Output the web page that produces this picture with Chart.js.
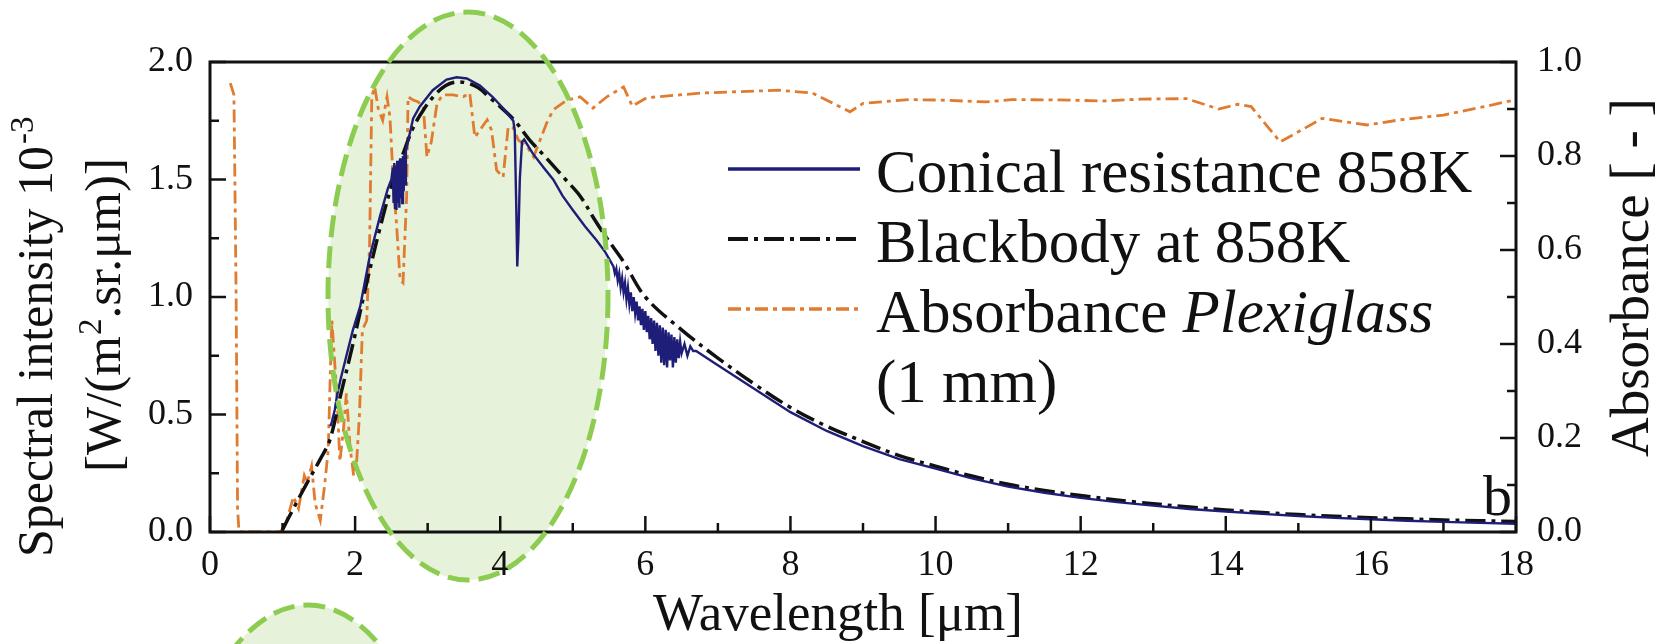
<!DOCTYPE html>
<html>
<head>
<meta charset="utf-8">
<style>
html,body{margin:0;padding:0;background:#ffffff;}
#wrap{width:1664px;height:644px;position:relative;}
canvas{display:block;}
</style>
<script src="https://cdn.jsdelivr.net/npm/chart.js@4.4.1/dist/chart.umd.min.js"></script>
</head>
<body>
<div id="wrap"><canvas id="c" width="1664" height="644"></canvas></div>
<script>
// ---------------- DATA ----------------
const seriesNames = ["Conical resistance 858K", "Blackbody at 858K", "Absorbance ", "Plexiglass", "(1 mm)"];

const conicalWavelength = [1.66,1.68,1.72,1.75,1.80,1.88,1.97,2.07,2.20,2.34,2.45,2.50,2.52,2.53,2.54,2.55,2.56,2.57,2.58,2.59,2.60,2.61,2.62,2.63,2.64,2.65,2.66,2.67,2.68,2.69,2.70,2.72,2.80,2.89,3.07,3.26,3.40,3.54,3.72,3.90,4.05,4.18,4.20,4.22,4.235,4.25,4.27,4.30,4.33,4.45,4.60,4.73,4.86,5.00,5.17,5.33,5.45,5.56,5.58,5.60,5.62,5.64,5.66,5.68,5.70,5.72,5.74,5.76,5.78,5.80,5.82,5.84,5.86,5.88,5.90,5.92,5.94,5.96,5.98,6.00,6.02,6.04,6.06,6.08,6.10,6.12,6.14,6.16,6.18,6.20,6.22,6.24,6.26,6.28,6.30,6.32,6.34,6.36,6.38,6.40,6.42,6.44,6.46,6.48,6.50,6.54,6.58,6.62,6.66,6.70,6.80,7.00,7.50,8.00,8.50,9.00,9.50,10.0,10.5,11.0,11.5,12.0,12.5,13.0,13.5,14.0,14.5,15.0,15.5,16.0,16.5,17.0,17.5,18.0];
const conicalIntensity  = [0.45,0.47,0.52,0.58,0.65,0.75,0.86,0.96,1.17,1.34,1.46,1.50,1.55,1.40,1.57,1.38,1.56,1.37,1.58,1.40,1.57,1.38,1.59,1.42,1.58,1.40,1.60,1.45,1.61,1.48,1.62,1.65,1.76,1.81,1.88,1.925,1.935,1.93,1.90,1.85,1.80,1.75,1.71,1.40,1.13,1.25,1.50,1.66,1.67,1.61,1.55,1.50,1.43,1.37,1.30,1.24,1.19,1.13,1.10,1.12,1.07,1.10,1.04,1.08,1.02,1.06,0.99,1.04,0.97,1.02,0.94,1.00,0.93,0.98,0.90,0.96,0.88,0.95,0.86,0.94,0.85,0.92,0.82,0.91,0.80,0.90,0.77,0.89,0.75,0.88,0.72,0.87,0.71,0.86,0.70,0.85,0.73,0.84,0.70,0.83,0.72,0.82,0.74,0.81,0.76,0.80,0.75,0.79,0.77,0.77,0.75,0.71,0.61,0.51,0.43,0.365,0.31,0.27,0.228,0.193,0.167,0.145,0.127,0.112,0.098,0.087,0.077,0.068,0.060,0.054,0.048,0.043,0.039,0.035];

const blackbodyWavelength = [1.00,1.15,1.34,1.52,1.65,1.79,1.97,2.16,2.34,2.50,2.65,2.80,2.95,3.10,3.25,3.40,3.55,3.70,3.85,4.00,4.20,4.40,4.64,4.90,5.10,5.30,5.47,5.70,6.00,6.50,7.00,7.50,8.00,8.50,9.00,9.50,10.0,10.5,11.0,11.5,12.0,12.75,13.5,14.0,14.5,15.0,15.5,16.0,16.5,17.0,17.5,18.0];
const blackbodyIntensity  = [0.01,0.10,0.21,0.31,0.39,0.57,0.80,1.06,1.29,1.47,1.60,1.72,1.80,1.86,1.90,1.915,1.91,1.89,1.85,1.81,1.75,1.67,1.59,1.50,1.43,1.33,1.25,1.15,1.00,0.86,0.74,0.63,0.53,0.45,0.385,0.325,0.28,0.238,0.203,0.177,0.155,0.128,0.106,0.094,0.083,0.074,0.067,0.061,0.056,0.051,0.048,0.045];

const plexiWavelength = [0.28,0.33,0.36,0.38,0.40,0.60,0.80,0.97,1.05,1.15,1.22,1.30,1.34,1.40,1.45,1.52,1.58,1.63,1.66,1.68,1.71,1.75,1.79,1.84,1.88,1.93,1.98,2.02,2.06,2.10,2.16,2.20,2.23,2.27,2.32,2.38,2.44,2.48,2.53,2.57,2.62,2.66,2.71,2.73,2.80,2.87,2.94,2.99,3.05,3.13,3.21,3.35,3.49,3.58,3.65,3.72,3.82,3.88,3.95,4.04,4.11,4.18,4.25,4.37,4.46,4.55,4.64,4.73,4.92,5.10,5.28,5.47,5.70,5.82,6.02,6.78,7.84,8.30,8.82,9.00,9.63,10.07,10.70,11.05,11.85,12.30,12.83,13.46,13.90,14.17,14.35,14.75,15.33,15.95,16.40,17.00,17.56,18.00];
const plexiAbsorbance = [0.955,0.93,0.50,0.05,0.0,0.0,0.0,0.0,0.02,0.075,0.05,0.12,0.105,0.14,0.06,0.025,0.10,0.175,0.35,0.45,0.38,0.29,0.15,0.22,0.295,0.18,0.12,0.147,0.25,0.43,0.45,0.615,0.926,0.947,0.90,0.876,0.926,0.883,0.734,0.657,0.536,0.53,0.713,0.926,0.919,0.915,0.904,0.798,0.83,0.913,0.93,0.93,0.926,0.934,0.84,0.855,0.877,0.855,0.77,0.755,0.862,0.86,0.834,0.82,0.798,0.834,0.87,0.898,0.919,0.926,0.902,0.926,0.947,0.906,0.924,0.934,0.94,0.934,0.894,0.912,0.92,0.919,0.915,0.92,0.919,0.917,0.921,0.922,0.90,0.91,0.905,0.83,0.88,0.866,0.877,0.887,0.905,0.92];

const xMajorTicks = [0,2,4,6,8,10,12,14,16,18];
const xMinorTicks = [1,3,5,7,9,11,13,15,17];
const yLeftMajorTicks = [0,0.5,1.0,1.5,2.0];
const yLeftMinorTicks = [0.25,0.75,1.25,1.75];
const yRightMajorTicks = [0,0.2,0.4,0.6,0.8,1.0];
const yRightMinorTicks = [0.1,0.3,0.5,0.7,0.9];

const xTitle = "Wavelength [\u03bcm]";
const yLeftTitle1 = ["Spectral intensity 10", "-3"];
const yLeftTitle2 = ["[W/(m", "2", ".sr.\u03bcm)]"];
const yRightTitle = "Absorbance [ - ]";
const panelLabel = "b";

// ---------------- STYLE ----------------
const FONT = "'Liberation Serif', 'Times New Roman', serif";
const INK = "#111111";
const BLUE = "#1e1e78";
const ORANGE = "#e07b30";
const GREEN_FILL = "#e6f2da";
const GREEN_LINE = "#8ccc50";

function pts(xs, ys){ return xs.map((x,i)=>({x:x, y:ys[i]})); }

const dashBlack = [20,6,4,6];
const dashOrange = [13,5,4,5];

const decor = {
  id: 'decor',
  beforeDraw(chart){
    const ctx = chart.ctx;
    ctx.save();
    ctx.fillStyle = '#ffffff';
    ctx.fillRect(0,0,chart.width,chart.height);
    ctx.fillStyle = GREEN_FILL;
    ctx.beginPath(); ctx.ellipse(468,296,140,284,0,0,Math.PI*2); ctx.fill();
    ctx.beginPath(); ctx.ellipse(308,889,140,284,0,0,Math.PI*2); ctx.fill();
    ctx.restore();
  },
  afterDatasetsDraw(chart){
    const ctx = chart.ctx;
    const a = chart.chartArea;
    const xs = chart.scales.x, yl = chart.scales.y, yr = chart.scales.y2;
    ctx.save();
    ctx.strokeStyle = INK;
    ctx.lineWidth = 3;
    ctx.strokeRect(a.left, a.top, a.right-a.left, a.bottom-a.top);
    ctx.lineWidth = 2.5;
    const seg = (x1,y1,x2,y2)=>{ctx.beginPath();ctx.moveTo(x1,y1);ctx.lineTo(x2,y2);ctx.stroke();};
    xMajorTicks.forEach(v=>{const p=xs.getPixelForValue(v); seg(p,a.bottom,p,a.bottom-16);});
    xMinorTicks.forEach(v=>{const p=xs.getPixelForValue(v); seg(p,a.bottom,p,a.bottom-9);});
    yLeftMajorTicks.forEach(v=>{const p=yl.getPixelForValue(v); seg(a.left,p,a.left+16,p);});
    yLeftMinorTicks.forEach(v=>{const p=yl.getPixelForValue(v); seg(a.left,p,a.left+9,p);});
    yRightMajorTicks.forEach(v=>{const p=yr.getPixelForValue(v); seg(a.right,p,a.right-16,p);});
    yRightMinorTicks.forEach(v=>{const p=yr.getPixelForValue(v); seg(a.right,p,a.right-9,p);});

    // axis titles
    ctx.fillStyle = INK;
    ctx.textBaseline = 'alphabetic';
    ctx.textAlign = 'left';
    ctx.font = "53px " + FONT;
    ctx.fillText(xTitle, 653, 630);

    // left title, two rotated lines
    ctx.save();
    ctx.translate(52, 557); ctx.rotate(-Math.PI/2);
    ctx.font = "50px " + FONT;
    ctx.fillText(yLeftTitle1[0], 0, 0);
    let w = ctx.measureText(yLeftTitle1[0]).width;
    ctx.font = "33px " + FONT;
    ctx.fillText(yLeftTitle1[1], w+2, -19);
    ctx.restore();

    ctx.save();
    ctx.translate(120, 472); ctx.rotate(-Math.PI/2);
    ctx.font = "51px " + FONT;
    ctx.fillText(yLeftTitle2[0], 0, 0);
    w = ctx.measureText(yLeftTitle2[0]).width;
    ctx.font = "33px " + FONT;
    ctx.fillText(yLeftTitle2[1], w+1, -19);
    w += ctx.measureText(yLeftTitle2[1]).width + 1;
    ctx.font = "51px " + FONT;
    ctx.fillText(yLeftTitle2[2], w, 0);
    ctx.restore();

    ctx.save();
    ctx.translate(1648, 457); ctx.rotate(-Math.PI/2);
    ctx.font = "55px " + FONT;
    ctx.fillText(yRightTitle, 0, 0);
    ctx.restore();

    // panel label
    ctx.font = "58px " + FONT;
    ctx.fillText(panelLabel, 1483, 515);

    // legend
    const ds = chart.data.datasets;
    const rows = [169, 239, 309];
    const base = [192, 262, 332, 402];
    rows.forEach((yy,i)=>{
      const d = ds[i];
      ctx.save();
      ctx.strokeStyle = d.borderColor;
      ctx.lineWidth = d.borderWidth + (i===0?1:0.5);
      ctx.setLineDash(d.borderDash || []);
      ctx.beginPath(); ctx.moveTo(728,yy); ctx.lineTo(860,yy); ctx.stroke();
      ctx.restore();
    });
    ctx.font = "61px " + FONT;
    ctx.fillText(seriesNames[0], 876, base[0]);
    ctx.fillText(seriesNames[1], 876, base[1]);
    ctx.fillText(seriesNames[2], 876, base[2]);
    const wa = ctx.measureText(seriesNames[2]).width;
    ctx.font = "italic 61px " + FONT;
    ctx.fillText(seriesNames[3], 876+wa, base[2]);
    ctx.font = "61px " + FONT;
    ctx.fillText(seriesNames[4], 876, base[3]);
    ctx.restore();
  },
  afterDraw(chart){
    const ctx = chart.ctx;
    ctx.save();
    ctx.strokeStyle = GREEN_LINE;
    ctx.lineWidth = 5;
    ctx.setLineDash([22,9]);
    ctx.beginPath(); ctx.ellipse(468,296,140,284,0,0,Math.PI*2); ctx.stroke();
    ctx.beginPath(); ctx.ellipse(308,889,140,284,0,0,Math.PI*2); ctx.stroke();
    ctx.restore();
  }
};

const tickFont = {family: FONT, size: 36};

new Chart(document.getElementById('c'), {
  type: 'line',
  data: {
    datasets: [
      {label: seriesNames[0], data: pts(conicalWavelength, conicalIntensity), yAxisID: 'y',
       borderColor: BLUE, borderWidth: 2.4, pointRadius: 0, tension: 0, fill: false},
      {label: seriesNames[1], data: pts(blackbodyWavelength, blackbodyIntensity), yAxisID: 'y',
       borderColor: INK, borderWidth: 3.5, borderDash: dashBlack, pointRadius: 0, tension: 0.35, fill: false},
      {label: seriesNames[2] + seriesNames[3], data: pts(plexiWavelength, plexiAbsorbance), yAxisID: 'y2',
       borderColor: ORANGE, borderWidth: 2.8, borderDash: dashOrange, pointRadius: 0, tension: 0, fill: false}
    ]
  },
  options: {
    responsive: false,
    animation: false,
    devicePixelRatio: 1,
    layout: {padding: {top: 62, left: 0, right: 0, bottom: 0}},
    plugins: {legend: {display: false}, tooltip: {enabled: false}, title: {display: false}},
    scales: {
      x: {type: 'linear', min: 0, max: 18,
          ticks: {stepSize: 2, font: tickFont, color: INK, padding: 12, maxRotation: 0, autoSkip: false},
          grid: {display: false, drawTicks: false}, border: {display: false},
          afterFit(s){ s.height = 112; }},
      y: {type: 'linear', position: 'left', min: 0, max: 2,
          ticks: {stepSize: 0.5, font: tickFont, color: INK, padding: 17, callback: v => v.toFixed(1)},
          grid: {display: false, drawTicks: false}, border: {display: false},
          afterFit(s){ s.width = 210; }},
      y2: {type: 'linear', position: 'right', min: 0, max: 1,
          ticks: {stepSize: 0.2, font: tickFont, color: INK, padding: 21, callback: v => v.toFixed(1)},
          grid: {display: false, drawTicks: false}, border: {display: false},
          afterFit(s){ s.width = 148; }}
    }
  },
  plugins: [decor]
});
</script>
</body>
</html>
